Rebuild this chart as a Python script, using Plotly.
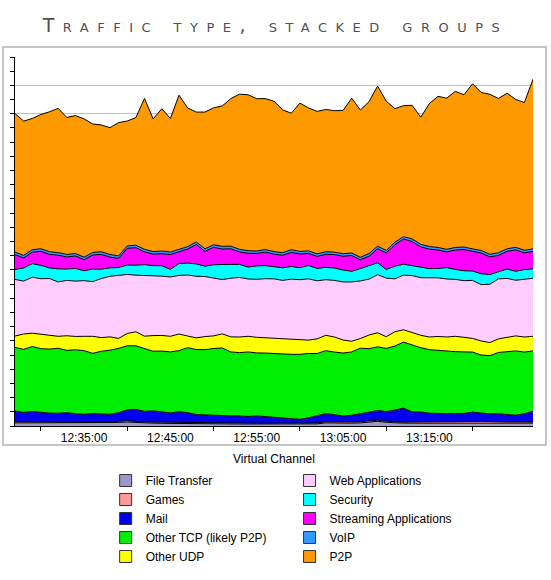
import plotly.graph_objects as go
import pandas as pd

# one sample per minute, 12:27 - 13:27
day = "2009-06-15 "
times = pd.date_range(day + "12:27:00", day + "13:27:00", freq="1min")

file_transfer = [0.22, 0.22, 0.22, 0.22, 0.22, 0.22, 0.20, 0.20, 0.20, 0.20, 0.20, 0.20, 0.25, 0.28, 0.24, 0.20,
                 0.20, 0.19, 0.18, 0.18, 0.17, 0.16, 0.16, 0.15, 0.15, 0.15, 0.14, 0.14, 0.14, 0.14, 0.14, 0.14,
                 0.14, 0.14, 0.14, 0.15, 0.22, 0.20, 0.20, 0.20, 0.22, 0.28, 0.33, 0.26, 0.22, 0.20, 0.20, 0.20,
                 0.20, 0.20, 0.20, 0.20, 0.22, 0.24, 0.25, 0.22, 0.20, 0.20, 0.20, 0.20, 0.20]
games = [0.08, 0.08, 0.09, 0.08, 0.10, 0.09, 0.08, 0.07, 0.08, 0.08, 0.07, 0.08, 0.08, 0.09, 0.08, 0.07,
         0.07, 0.08, 0.08, 0.07, 0.06, 0.06, 0.07, 0.07, 0.06, 0.06, 0.06, 0.07, 0.06, 0.06, 0.07, 0.06,
         0.06, 0.06, 0.07, 0.07, 0.08, 0.08, 0.07, 0.08, 0.08, 0.09, 0.08, 0.08, 0.07, 0.07, 0.08, 0.08,
         0.08, 0.07, 0.08, 0.08, 0.07, 0.08, 0.08, 0.08, 0.09, 0.08, 0.08, 0.08, 0.08]
mail = [0.76, 0.66, 0.71, 0.64, 0.59, 0.59, 0.66, 0.59, 0.55, 0.59, 0.59, 0.55, 0.61, 0.77, 0.85, 0.76,
        0.80, 0.71, 0.66, 0.76, 0.71, 0.59, 0.55, 0.57, 0.50, 0.50, 0.51, 0.46, 0.51, 0.46, 0.44, 0.41,
        0.34, 0.27, 0.37, 0.48, 0.57, 0.52, 0.43, 0.48, 0.55, 0.60, 0.69, 0.67, 0.83, 0.99, 0.71, 0.71,
        0.62, 0.64, 0.59, 0.59, 0.59, 0.66, 0.56, 0.55, 0.57, 0.52, 0.48, 0.59, 0.76]
other_tcp = [4.48, 4.44, 4.58, 4.51, 4.51, 4.58, 4.39, 4.51, 4.48, 4.25, 4.41, 4.51, 4.53, 4.51, 4.48, 4.41,
             4.20, 4.30, 4.30, 4.30, 4.58, 4.58, 4.60, 4.67, 4.79, 4.51, 4.46, 4.55, 4.44, 4.48, 4.46, 4.44,
             4.51, 4.58, 4.53, 4.41, 4.44, 4.41, 4.44, 4.46, 4.63, 4.48, 4.48, 4.46, 4.51, 4.65, 4.70, 4.53,
             4.48, 4.41, 4.41, 4.37, 4.34, 4.23, 4.11, 4.11, 4.32, 4.41, 4.53, 4.34, 4.25]
other_udp = [0.80, 1.08, 0.94, 1.03, 0.96, 0.84, 1.03, 0.94, 1.01, 1.20, 0.96, 0.94, 0.70, 0.87, 0.99, 0.89,
             1.10, 1.10, 1.10, 1.17, 0.82, 0.82, 0.92, 0.89, 0.99, 1.06, 1.10, 1.10, 1.10, 1.08, 1.10, 1.10,
             1.10, 1.03, 0.94, 1.03, 1.08, 1.06, 0.92, 0.75, 0.68, 0.96, 0.99, 0.82, 1.01, 0.87, 0.87, 0.87,
             0.89, 0.99, 0.99, 1.08, 1.03, 0.96, 0.99, 0.92, 0.96, 1.06, 1.06, 1.06, 1.03]
web_apps = [3.99, 3.73, 3.94, 3.90, 4.01, 3.83, 3.90, 3.90, 3.92, 3.85, 4.16, 4.27, 4.44, 4.16, 3.99, 4.27,
            4.25, 4.18, 4.18, 4.13, 4.30, 4.34, 4.23, 4.09, 3.83, 4.13, 4.20, 4.04, 4.09, 4.16, 4.16, 4.11,
            4.20, 4.23, 4.32, 4.09, 3.92, 3.99, 4.09, 4.18, 4.06, 3.94, 4.09, 4.13, 3.73, 3.85, 4.04, 4.06,
            4.16, 4.13, 4.09, 4.01, 3.99, 4.09, 3.97, 4.11, 4.23, 4.13, 3.92, 4.09, 4.09]
security = [0.70, 0.92, 0.96, 0.94, 0.75, 0.92, 0.80, 0.89, 0.70, 0.89, 0.66, 0.59, 0.56, 0.66, 0.70, 0.77,
            0.68, 0.73, 0.54, 0.84, 0.84, 0.87, 0.73, 0.92, 1.06, 0.99, 0.92, 0.84, 0.94, 0.92, 0.84, 0.89,
            0.89, 0.84, 0.94, 0.87, 0.87, 0.87, 0.84, 0.75, 0.87, 0.92, 0.84, 0.61, 0.89, 0.77, 0.70, 0.75,
            0.66, 0.66, 0.80, 0.70, 0.70, 0.66, 0.77, 0.68, 0.52, 0.66, 0.63, 0.66, 0.66]
streaming = [1.04, 0.71, 0.81, 0.99, 0.95, 0.97, 0.85, 0.88, 0.78, 0.99, 1.04, 0.76, 0.64, 1.18, 1.23, 0.90,
             0.81, 0.85, 1.04, 0.81, 0.99, 1.37, 1.04, 1.23, 1.09, 1.09, 0.88, 0.97, 0.88, 0.95, 0.90, 0.88,
             0.99, 0.97, 0.85, 0.85, 0.92, 0.95, 0.97, 1.11, 0.62, 0.69, 0.99, 1.16, 1.51, 1.77, 1.70, 1.42,
             1.37, 1.30, 1.11, 1.37, 1.49, 1.39, 1.46, 1.25, 1.13, 1.25, 1.51, 1.18, 1.23]
voip = [0.18, 0.18, 0.17, 0.18, 0.19, 0.18, 0.18, 0.17, 0.18, 0.18, 0.19, 0.18, 0.18, 0.17, 0.18, 0.18,
        0.18, 0.19, 0.18, 0.18, 0.17, 0.18, 0.18, 0.18, 0.19, 0.18, 0.18, 0.18, 0.17, 0.18, 0.18, 0.18,
        0.19, 0.18, 0.18, 0.18, 0.18, 0.17, 0.18, 0.18, 0.18, 0.19, 0.18, 0.18, 0.18, 0.17, 0.18, 0.18,
        0.19, 0.18, 0.18, 0.18, 0.18, 0.17, 0.18, 0.18, 0.19, 0.18, 0.18, 0.18, 0.18]
p2p = [9.77, 9.46, 9.25, 9.46, 9.86, 10.16, 9.65, 9.72, 9.74, 9.05, 8.93, 8.94, 9.39, 8.80, 8.99, 10.63,
       9.35, 10.02, 9.41, 10.87, 9.77, 9.15, 9.64, 9.65, 9.89, 10.40, 10.93, 10.99, 10.73, 10.64, 10.59, 10.07,
       9.62, 10.45, 10.07, 10.04, 10.02, 9.97, 10.09, 10.91, 10.37, 10.70, 11.28, 10.52, 9.41, 9.23, 9.42, 8.96,
       10.07, 10.65, 10.65, 11.00, 10.73, 11.63, 11.13, 11.27, 10.87, 10.96, 10.42, 10.41, 11.95]

# stacking order, bottom to top
names = ["File Transfer", "Games", "Mail", "Other TCP (likely P2P)", "Other UDP",
         "Web Applications", "Security", "Streaming Applications", "VoIP", "P2P"]
series = [file_transfer, games, mail, other_tcp, other_udp,
          web_apps, security, streaming, voip, p2p]
colors = ["#9999CC", "#FF9999", "#0000EE", "#00EE00", "#FFFF00",
          "#FFCCFF", "#00FFFF", "#FF00FF", "#3399FF", "#FF9900"]

tick_labels = ["12:35:00", "12:45:00", "12:55:00", "13:05:00", "13:15:00"]
tick_marks = ["12:30:00", "12:40:00", "12:50:00", "13:00:00", "13:10:00", "13:20:00"]

fig = go.Figure()
for name, vals, col in zip(names, series, colors):
    fig.add_trace(go.Scatter(x=times, y=vals, name=name, stackgroup="one", mode="lines",
                             line=dict(color="black", width=1), fillcolor=col,
                             showlegend=False, hoverinfo="skip"))

# legend swatches (square boxes, two columns)
for i, (name, col) in enumerate(zip(names, colors)):
    fig.add_trace(go.Scatter(x=[None], y=[None], name=name, mode="markers",
                             marker=dict(symbol="square", size=12, color=col,
                                         line=dict(color="#333333", width=1)),
                             legend="legend" if i < 5 else "legend2"))

legend_style = dict(font=dict(family="Liberation Sans, Arial", size=12, color="black"),
                    traceorder="normal", bgcolor="rgba(0,0,0,0)", itemwidth=30,
                    yref="container", yanchor="top", y=1 - 466 / 580, xanchor="left")

fig.update_layout(
    width=551, height=580,
    margin=dict(l=15, r=18, t=57, b=154, autoexpand=False),
    paper_bgcolor="white", plot_bgcolor="white",
    title=dict(text="<span style='letter-spacing:8.5px'>Traffic type, stacked groups</span>",
               font=dict(family="DejaVu Sans", size=19, color="#505050", variant="small-caps"),
               x=0.5, xanchor="center", y=1 - 25 / 580, yanchor="middle"),
    legend=dict(x=0.175, **legend_style),
    legend2=dict(x=0.53, **legend_style),
    shapes=[dict(type="rect", xref="paper", yref="paper", x0=-0.0232, x1=1.0251,
                 y0=-0.0515, y1=1.0271, line=dict(color="#b4b4b4", width=1.5), layer="below")],
)

fig.update_xaxes(
    type="date", range=[times[0], times[-1]],
    tickvals=[day + t for t in tick_labels], ticktext=tick_labels,
    ticks="", ticklabelstandoff=1,
    showline=True, linecolor="black", linewidth=1, showgrid=False, zeroline=False,
    tickfont=dict(family="Liberation Sans, Arial", size=12, color="black"),
    minor=dict(tickvals=[day + t for t in tick_marks], ticks="outside", ticklen=4, tickcolor="black"),
    title=dict(text="Virtual Channel", standoff=26,
               font=dict(family="Liberation Sans, Arial", size=12, color="black")),
)
fig.update_yaxes(
    range=[0, 26], tickmode="linear", tick0=0, dtick=2,
    ticks="outside", ticklen=4, tickcolor="black", showticklabels=False,
    showgrid=True, gridcolor="#c0c0c0", gridwidth=1, zeroline=False,
    showline=True, linecolor="black", linewidth=1,
    minor=dict(dtick=1, ticks="outside", ticklen=4, tickcolor="black", showgrid=False),
)

# page body margin would push the figure off the 551x580 window
fig.write_html("out.html", config={"displayModeBar": False},
               post_script="document.body.style.margin='0';")
